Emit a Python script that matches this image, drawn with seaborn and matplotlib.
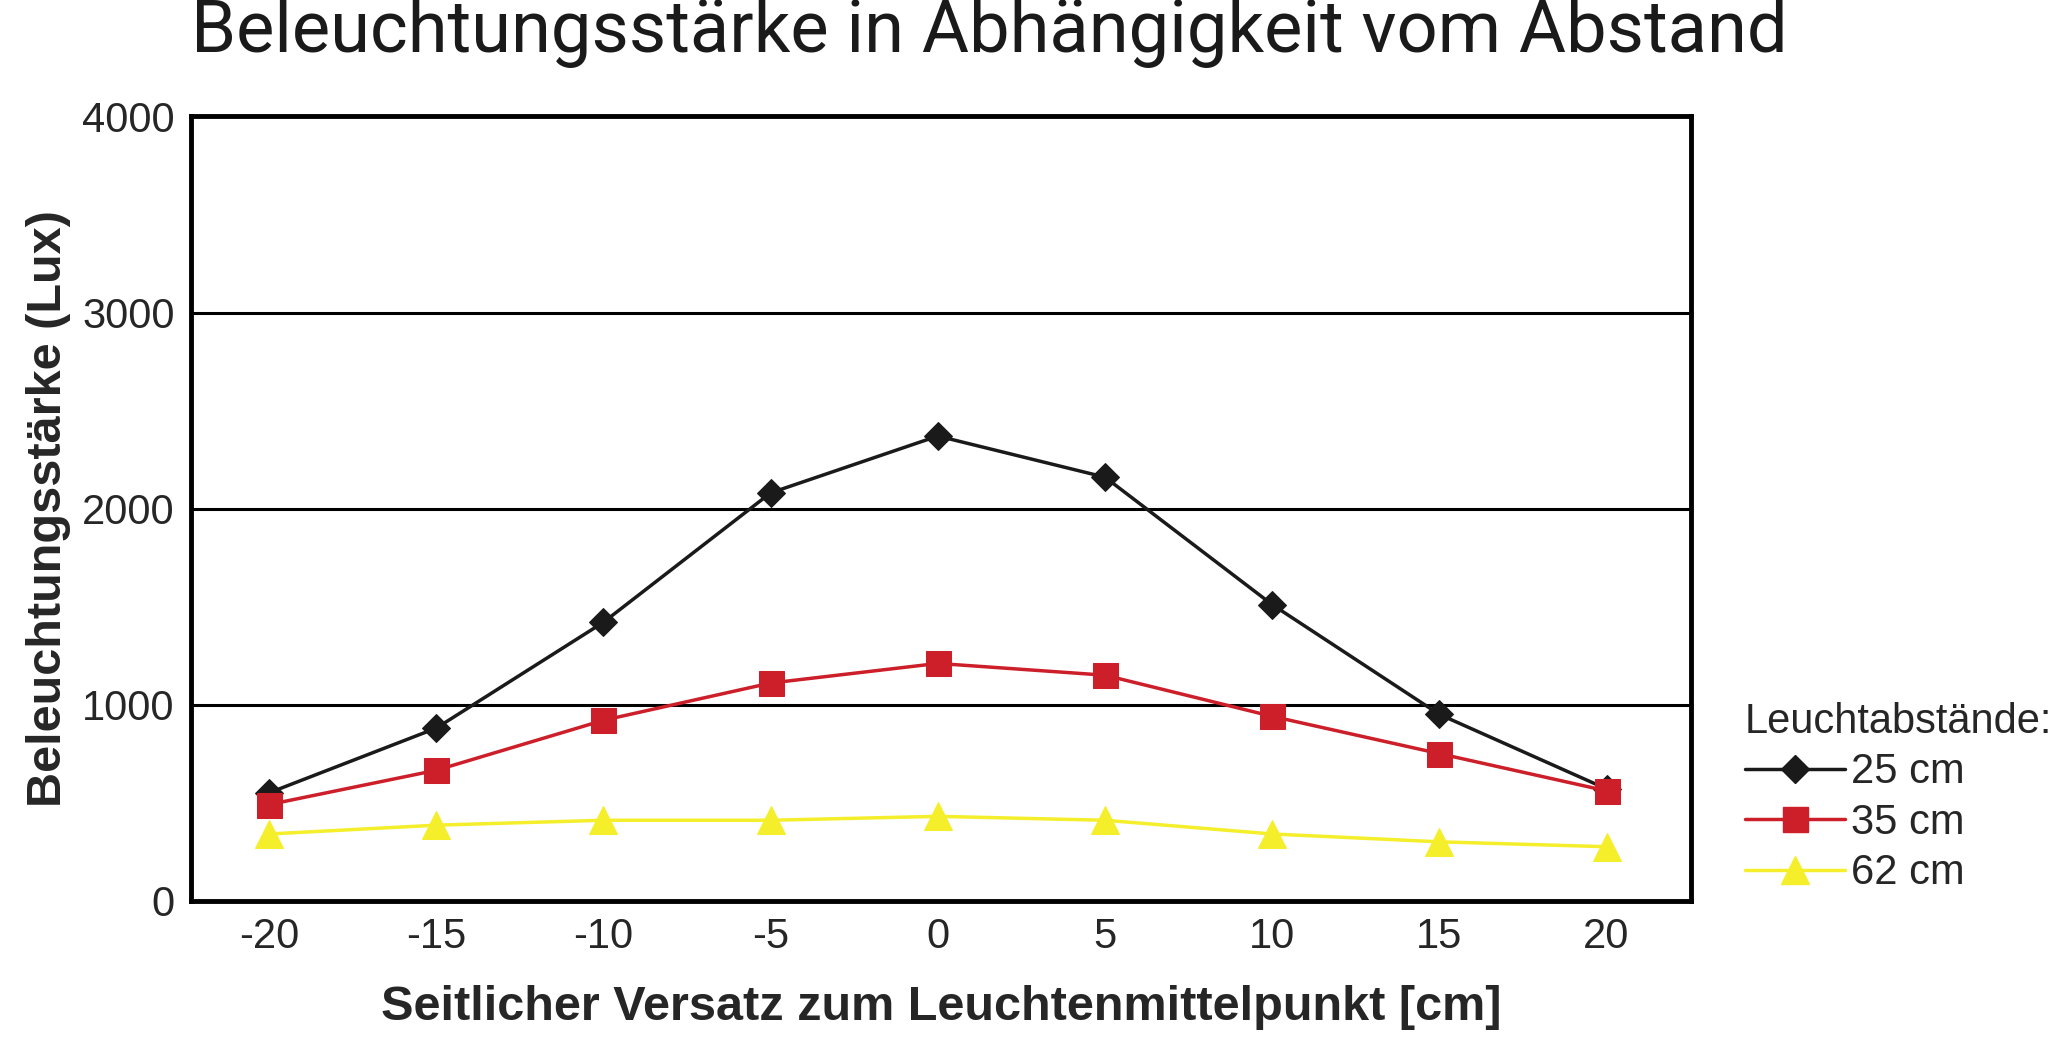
import matplotlib
matplotlib.use("Agg")
import matplotlib.pyplot as plt
import seaborn as sns
import pandas as pd
from matplotlib.lines import Line2D

x_vals = [-20, -15, -10, -5, 0, 5, 10, 15, 20]
lux_25 = [550, 880, 1420, 2080, 2370, 2160, 1510, 950, 570]
lux_35 = [490, 665, 920, 1110, 1210, 1150, 940, 750, 560]
lux_62 = [340, 385, 410, 410, 430, 410, 340, 300, 275]
labels = ["25 cm", "35 cm", "62 cm"]

sns.set_style("white")
plt.rcParams['font.family'] = ['Liberation Sans', 'DejaVu Sans']
plt.rcParams['axes.unicode_minus'] = False

df = pd.DataFrame({"x": x_vals * 3, "y": lux_25 + lux_35 + lux_62,
                   "s": sum([[l] * len(x_vals) for l in labels], [])})

fig = plt.figure(figsize=(20.67, 10.40), dpi=100)
ax = fig.add_axes([0.0925, 0.134, 0.7255, 0.754])
styles = {"25 cm": ("#1a1a1a", "D", 14), "35 cm": ("#cc1f2a", "s", 18), "62 cm": ("#f5ee2a", "^", 20)}
handles = []
for l in labels:
    c, m, ms = styles[l]
    sns.lineplot(data=df[df.s == l], x="x", y="y", ax=ax, color=c, marker=m,
                 markersize=ms, markeredgecolor=c, linewidth=2.5, legend=False)
    handles.append(Line2D([], [], color=c, marker=m, markersize=ms, markeredgecolor=c, linewidth=2.5))

ax.set_xlim(-22.33, 22.52)
ax.set_ylim(0, 4000)
ax.set_xticks(x_vals)
ax.set_yticks([0, 1000, 2000, 3000, 4000])
ax.tick_params(labelsize=30, length=0, pad=12)
for yv in [1000, 2000, 3000]:
    ax.axhline(yv, color="black", linewidth=2.2, zorder=0)
for sp in ax.spines.values():
    sp.set_linewidth(3.5)
    sp.set_color("black")
ax.set_xlabel("Seitlicher Versatz zum Leuchtenmittelpunkt [cm]", fontsize=35, fontweight="bold", labelpad=20)
ax.set_ylabel("Beleuchtungsstärke (Lux)", fontsize=35, fontweight="bold", labelpad=8)

fig.text(0.0925, 0.968, "Beleuchtungsstärke in Abhängigkeit vom Abstand", ha="left", va="center",
         fontsize=52, family=["Roboto", "DejaVu Sans"], fontweight="normal", color="#1a1a1a")

leg = fig.legend(handles, labels, loc="upper left", bbox_to_anchor=(0.834, 0.345), frameon=False,
                 fontsize=30, title="Leuchtabstände:", title_fontsize=30, handlelength=2.4,
                 handletextpad=0.15, labelspacing=0.25, borderpad=0)
leg._legend_box.align = "left"
fig.savefig("out.png", dpi=100)
